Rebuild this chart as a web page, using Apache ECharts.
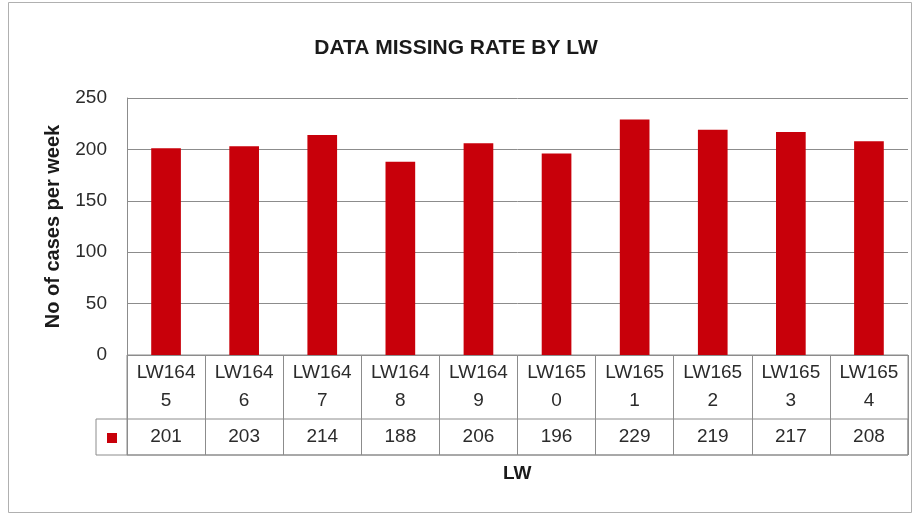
<!DOCTYPE html>
<html>
<head>
<meta charset="utf-8">
<script src="https://cdn.jsdelivr.net/npm/echarts@6/dist/echarts.min.js"></script>
<style>
  html, body { margin: 0; padding: 0; background: #fff; }
  #chart { width: 922px; height: 514px; }
</style>
</head>
<body>
<div id="chart"></div>
<script>
const chart = echarts.init(document.getElementById('chart'));

// weeks
const weeks = ['LW1645', 'LW1646', 'LW1647', 'LW1648', 'LW1649',
    'LW1650', 'LW1651', 'LW1652', 'LW1653', 'LW1654'];
// missing cases per week
const cases = [201, 203, 214, 188, 206, 196, 229, 219, 217, 208];
const yTicks = { min: 0, max: 250, step: 50 };

const font = "'Liberation Sans', Arial, sans-serif";
const lineColor = '#8c8c8c';
const textColor = '#2b2b2b';

var option = {
    animation: false,
    backgroundColor: '#fff',
    textStyle: { fontFamily: font },
    title: {
        text: 'DATA MISSING RATE BY LW',
        left: 451,
        textAlign: 'center',
        top: 33,
        textStyle: { fontSize: 21, fontWeight: 'bold', color: '#1a1a1a', fontFamily: font }
    },
    legend: {
        data: ['Cases'],
        icon: 'rect',
        itemWidth: 10,
        itemHeight: 10,
        left: 102,
        top: 427,
        formatter: () => ' ',
        selectedMode: false
    },
    grid: [
        // plot area
        { left: 127, right: 14, top: 98, bottom: 159 },
        // data table, category + value rows
        { left: 127, right: 14, top: 355, bottom: 59, show: true, borderColor: lineColor, borderWidth: 1 },
        // value row incl. legend key cell
        { left: 96, right: 14, top: 419, bottom: 59, show: true, borderColor: lineColor, borderWidth: 1 }
    ],
    xAxis: [{
        type: 'category',
        gridIndex: 0,
        data: weeks,
        axisLine: { show: false },
        axisTick: { show: false },
        axisLabel: {
            interval: 0,
            margin: 4,
            color: textColor,
            formatter: function (v, i) {
                return '{c|' + v.slice(0, 5) + '\n' + v.slice(5) + '}\n{v|' + cases[i] + '}';
            },
            rich: {
                c: { fontSize: 19, lineHeight: 28, color: textColor, fontFamily: font },
                v: { fontSize: 19, lineHeight: 44, color: textColor, fontFamily: font }
            }
        }
    }, {
        type: 'category',
        gridIndex: 1,
        data: weeks,
        axisLine: { show: false },
        axisTick: { show: false },
        axisLabel: { show: false },
        splitLine: { show: true, interval: 0, lineStyle: { color: lineColor, width: 1 } }
    }, {
        type: 'category',
        gridIndex: 2,
        data: [''],
        show: false
    }],
    yAxis: [{
        type: 'value',
        gridIndex: 0,
        min: yTicks.min,
        max: yTicks.max,
        interval: yTicks.step,
        name: 'No of cases per week',
        nameLocation: 'middle',
        nameGap: 64,
        nameTextStyle: { fontSize: 20, fontWeight: 'bold', color: '#1a1a1a', fontFamily: font },
        axisLine: { show: true, lineStyle: { color: lineColor } },
        axisTick: { show: false },
        axisLabel: { fontSize: 19, color: textColor, margin: 20 },
        splitLine: { lineStyle: { color: lineColor, width: 1 } }
    }, {
        type: 'value',
        gridIndex: 1,
        show: false
    }, {
        type: 'value',
        gridIndex: 2,
        show: false
    }],
    graphic: [{
        type: 'rect',
        shape: { x: 8.5, y: 2.5, width: 903, height: 510 },
        style: { fill: null, stroke: '#b0b0b0', lineWidth: 1 },
        silent: true
    }, {
        type: 'text',
        left: 503,
        top: 464,
        style: { text: 'LW', fill: '#1a1a1a', font: 'bold 19px ' + font }
    }],
    series: [{
        name: 'Cases',
        type: 'bar',
        xAxisIndex: 0,
        yAxisIndex: 0,
        data: cases,
        barWidth: '38%',
        itemStyle: { color: '#c8000a' }
    }]
};

chart.setOption(option);
</script>
</body>
</html>
